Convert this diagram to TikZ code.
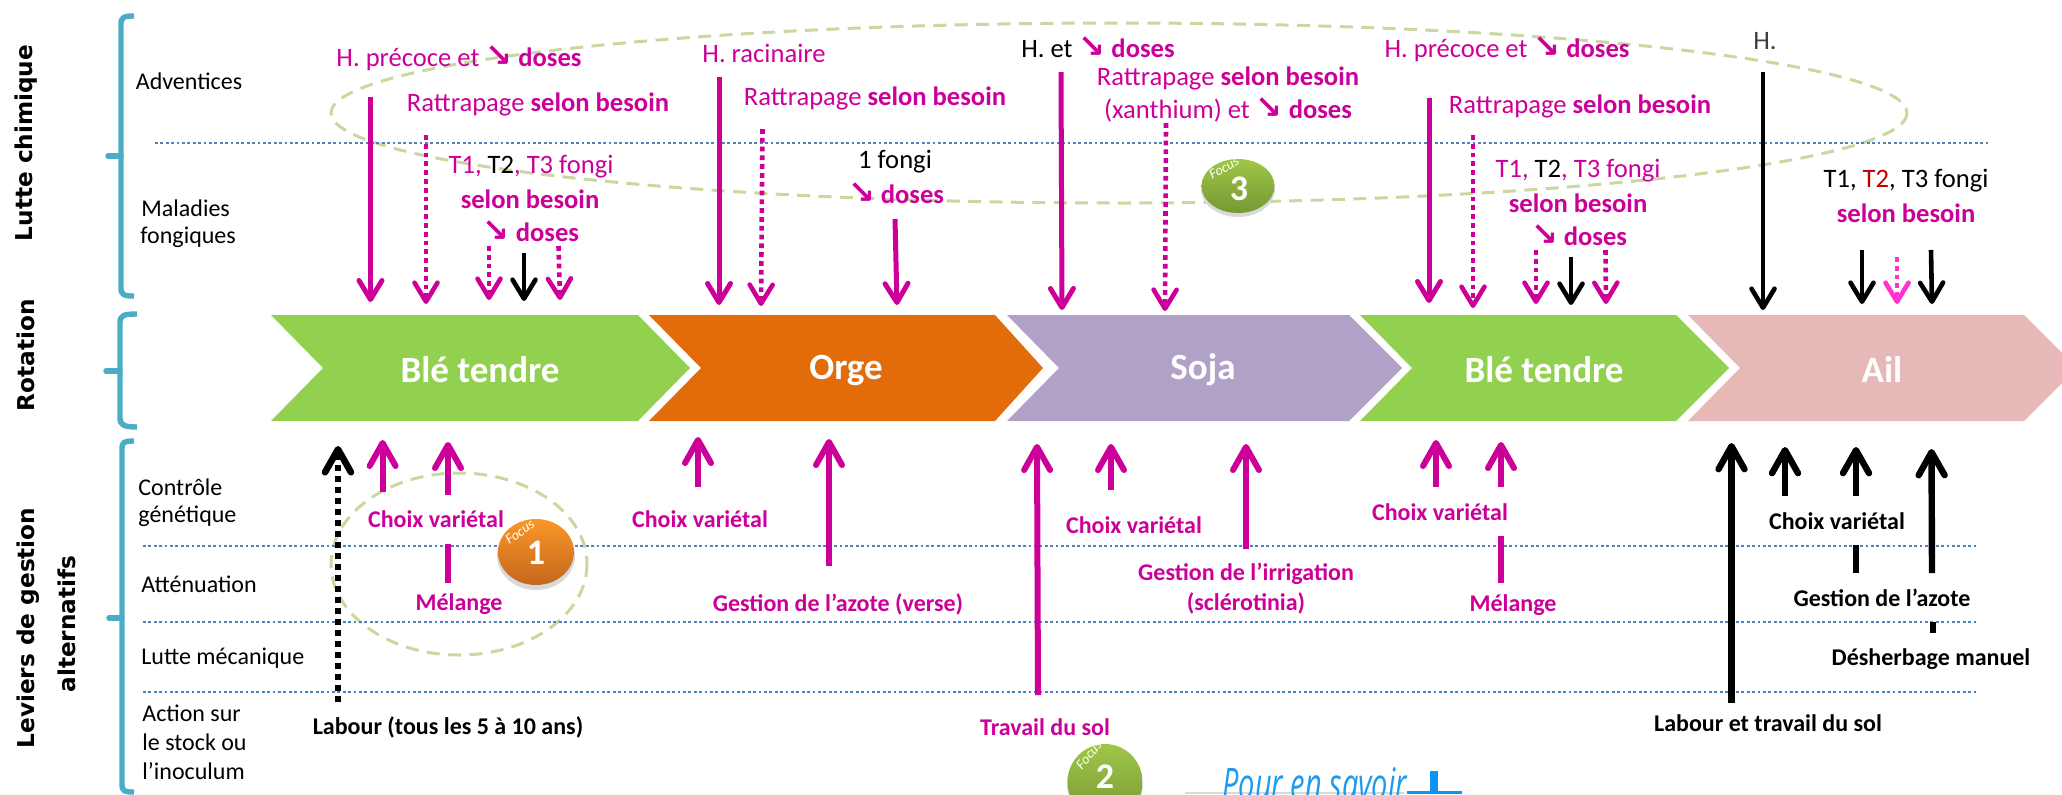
\documentclass[tikz,border=0pt]{standalone}
\usepackage{graphicx}
\usepackage{fontspec}
\setmainfont{Carlito}
\newfontfamily\headfam{DejaVu Sans}
\newfontfamily\symfam{DejaVu Sans}
\newfontfamily\penfam{Open Sans}
\usetikzlibrary{arrows.meta,shapes.geometric}
\definecolor{pk}{HTML}{CC0099}
\definecolor{pkl}{HTML}{FF33CC}
\definecolor{dotb}{HTML}{4F81BD}
\definecolor{brc}{HTML}{4BACC6}
\definecolor{elg}{HTML}{C8D8A0}
\definecolor{redt}{HTML}{C00000}
\newcommand\arw{{\fontsize{16}{16}\selectfont\symfam\bfseries ↘}}
\newcommand\conn[4]{\coordinate (#1s) at (#3); \coordinate (#1e) at (#4); \draw[#2] (#1s) -- (#1e);}
\tikzset{
  txt/.style={inner sep=0pt,font=\fontsize{13.3}{15}\selectfont,text=pk,align=center},
  blk/.style={txt,text=black},
  side/.style={inner sep=0pt,font=\fontsize{12}{14}\selectfont,text=black},
  head/.style={inner sep=0pt,rotate=90,text=black,font=\fontsize{11.6}{14}\selectfont\headfam\bfseries},
  bold/.style={txt,font=\fontsize{12}{14}\selectfont\bfseries},
  boldt/.style={txt,font=\fontsize{13.3}{15}\selectfont\bfseries},
  boldk/.style={bold,text=black},
  barw/.style={-{Straight Barb[length=9.5pt,width=11.5pt,round]}},
  uarw/.style={-{Straight Barb[length=11.5pt,width=13pt,round]}},
  pdn/.style={draw=pk,line width=2.5pt,barw},
  pdt/.style={draw=pk,line width=2.3pt,barw,dash pattern=on 2.4pt off 2pt},
  ldt/.style={draw=pkl,line width=2.3pt,barw,dash pattern=on 2.4pt off 2pt},
  kdn/.style={draw=black,line width=2.3pt,barw},
  pup/.style={draw=pk,line width=3pt,uarw},
  kup/.style={draw=black,line width=3.2pt,uarw},
  kdt/.style={draw=black,line width=3.3pt,uarw,dash pattern=on 3pt off 2.5pt},
  pbar/.style={draw=pk,line width=3pt},
  kbar/.style={draw=black,line width=3.2pt},
  dotl/.style={draw=dotb,line width=1.2pt,dash pattern=on 1.4pt off 1.3pt},
  brace/.style={draw=brc,line width=2.7pt,line cap=butt},
  focell/.style={draw=elg,line width=1.5pt,dash pattern=on 6.5pt off 4.2pt},
  chtxt/.style={inner sep=0pt,text=white,font=\fontsize{18.5}{20}\selectfont\bfseries},
  foc/.style={inner sep=0pt,text=white,font=\fontsize{7}{8}\selectfont\itshape},
  num/.style={inner sep=0pt,text=white,font=\fontsize{18}{20}\selectfont\bfseries},
}
\begin{document}
\begin{tikzpicture}[x=0.5pt,y=-0.5pt]
\useasboundingbox (0,0) rectangle (2062,794);
\clip (0,0) rectangle (2062,794);
% chevrons
\fill[fill={rgb,255:red,146;green,208;blue,80}] (271,315)--(638,315)--(690,368)--(638,421)--(271,421)--(323,368)--cycle;
\fill[fill={rgb,255:red,227;green,108;blue,10}] (649,315)--(995,315)--(1043,368)--(995,421)--(649,421)--(701,368)--cycle;
\fill[fill={rgb,255:red,178;green,161;blue,199}] (1007,315)--(1349,315)--(1402,368)--(1349,421)--(1007,421)--(1059,368)--cycle;
\fill[fill={rgb,255:red,146;green,208;blue,80}] (1360,315)--(1676,315)--(1729,368)--(1676,421)--(1360,421)--(1412,368)--cycle;
\fill[fill={rgb,255:red,230;green,184;blue,183}] (1688,315)--(2024,315)--(2077,368)--(2024,421)--(1688,421)--(1740,368)--cycle;
\node[chtxt] (c1) at (480,370) {Blé tendre};
\node[chtxt] (c2) at (846,370) {Orge};
\node[chtxt] (c3) at (1203,370) {Soja};
\node[chtxt] (c4) at (1544,370) {Blé tendre};
\node[chtxt] (c5) at (1882,370) {Ail};
% focus ellipses
\draw[focell] (1119,113) ellipse [x radius=788,y radius=90];
\draw[focell] (459,564) ellipse [x radius=128,y radius=91];
% dotted
\coordinate (d0a) at (155,143); \coordinate (d0b) at (1988,143); \draw[dotl] (d0a) -- (d0b);
\coordinate (d1a) at (143,546); \coordinate (d1b) at (1977,546); \draw[dotl] (d1a) -- (d1b);
\coordinate (d2a) at (143,622); \coordinate (d2b) at (1977,622); \draw[dotl] (d2a) -- (d2b);
\coordinate (d3a) at (143,692); \coordinate (d3b) at (1977,692); \draw[dotl] (d3a) -- (d3b);
% braces
\draw[brace] (134,16) .. controls (124,16) and (121,17) .. (121,24) -- (121,288) .. controls (121,295) and (124,296) .. (134,296);
\draw[brace,line cap=round] (108,156) -- (121,156);
\draw[brace] (137,314) .. controls (124,314) and (120,315) .. (120,323) -- (120,418) .. controls (120,425) and (124,427) .. (137,427);
\draw[brace,line cap=round] (106,371) -- (120,371);
\draw[brace] (134,441) .. controls (124,441) and (122,442) .. (122,449) -- (122,784) .. controls (122,791) and (124,792) .. (134,792);
\draw[brace,line cap=round] (109,618) -- (122,618);
% down arrows
\conn{a1}{pdn}{370.5,97}{370.5,302}
\conn{a2}{pdt}{426,135}{426,304}
\conn{a3}{pdt}{489,246}{489,300}
\conn{a4}{kdn}{524,253}{524,301}
\conn{a5}{pdt}{558.5,246}{560,300}
\conn{b1}{pdn}{719,77}{719,305}
\conn{b2}{pdt}{762.5,129}{761,306}
\conn{b3}{pdn}{895,219}{897,305}
\conn{b4}{pdn}{1061,72}{1062,310}
\conn{b5}{pdt}{1166,123}{1165,311}
\conn{c1a}{pdn}{1429,98}{1429,303}
\conn{c2a}{pdt}{1473,135}{1473,308}
\conn{c3a}{pdt}{1536,250}{1536,304}
\conn{c4a}{kdn}{1571,257}{1571,305}
\conn{c5a}{pdt}{1605.5,250}{1606,304}
\conn{c6a}{kdn}{1763,72}{1763,310}
\conn{c7a}{kdn}{1862,250}{1862,304}
\conn{c8a}{ldt}{1897,257}{1897,304}
\conn{c9a}{kdn}{1931,250}{1932,304}
% up arrows
\conn{u1}{kdt}{338,702}{338,446}
\conn{u2}{pup}{382.6,492}{382.6,440}
\conn{u3}{pup}{448,495}{448,442}
\conn{u3b}{pbar}{448,544}{448,583}
\conn{u4}{pup}{698,487}{698,437}
\conn{u5}{pup}{829,566}{829,439}
\conn{u6}{pup}{1038,695}{1037,444}
\conn{u7}{pup}{1111,490}{1111,444}
\conn{u8}{pup}{1246,549}{1246,444}
\conn{u9}{pup}{1436,487}{1436,440}
\conn{u10}{pup}{1501,487}{1501,442}
\conn{u10b}{pbar}{1501,536}{1501,583}
\conn{e1}{kup}{1731.5,703}{1731.5,443}
\conn{e2}{kup}{1785,496}{1785,447}
\conn{e3}{kup}{1856,496}{1856,447}
\conn{e3b}{kbar}{1856,545}{1856,573}
\conn{e4}{kup}{1932,573}{1931.5,449}
\conn{e4b}{kbar}{1933,622}{1933,633}
% side headings
\node[head] (h1) at (26,143) {Lutte chimique};
\node[head] (h2) at (26,355) {Rotation};
\node[head] (h3) at (28,628) {Leviers de gestion};
\node[head] (h4) at (67,624) {alternatifs};
% side labels
\node[side] (l1) at (189,81) {Adventices};
\node[side,anchor=west] (l2) at (141,208) {Maladies};
\node[side,anchor=west] (l3) at (140,237) {fongiques};
\node[side,anchor=west] (l4) at (138,487) {Contrôle};
\node[side,anchor=west] (l5) at (138,516) {génétique};
\node[side,anchor=west] (l6) at (141,584) {Atténuation};
\node[side,anchor=west] (l7) at (141,658) {Lutte mécanique};
\node[side,anchor=west] (l8) at (142,713) {Action sur};
\node[side,anchor=west] (l9) at (142,742) {le stock ou};
\node[side,anchor=west] (l10) at (142,771) {l’inoculum};
% top texts
\node[txt] (t1) at (459,58) {H. précoce et \arw\ \textbf{doses}};
\node[txt] (t2) at (538,104) {Rattrapage \textbf{selon besoin}};
\node[txt] (t3) at (531,167) {T1, {\color{black}T2}, T3 fongi};
\node[boldt] (t4) at (530,199) {selon besoin};
\node[txt] (t5) at (531,231) {\arw\ \textbf{doses}};
\node[txt] (t6) at (764,53) {H. racinaire};
\node[txt] (t7) at (875,98) {Rattrapage \textbf{selon besoin}};
\node[blk] (t8) at (895,162) {1 fongi};
\node[txt] (t9) at (896,193) {\arw\ \textbf{doses}};
\node[txt] (t10) at (1098,47) {{\color{black}H. et} \arw\ \textbf{doses}};
\node[txt] (t11) at (1228,78) {Rattrapage \textbf{selon besoin}};
\node[txt] (t12) at (1228,110) {(xanthium) et \arw\ \textbf{doses}};
\node[txt] (t13) at (1507,49) {H. précoce et \arw\ \textbf{doses}};
\node[txt] (t14) at (1580,106) {Rattrapage \textbf{selon besoin}};
\node[txt] (t15) at (1578,171) {T1, {\color{black}T2}, T3 fongi};
\node[boldt] (t16) at (1578,203) {selon besoin};
\node[txt] (t17) at (1579,235) {\arw\ \textbf{doses}};
\node[blk,text=black!75] (t18) at (1765,41) {H.};
\node[blk] (t19) at (1906,181) {T1, {\color{redt}T2}, T3 fongi};
\node[boldt] (t20) at (1906,213) {selon besoin};
% bottom texts
\node[bold] (b1t) at (436,519) {Choix variétal};
\node[bold] (b2t) at (459,604) {Mélange};
\node[boldk] (b3t) at (448,727) {Labour (tous les 5 à 10 ans)};
\node[bold] (b4t) at (700,519) {Choix variétal};
\node[bold] (b5t) at (838,604) {Gestion de l’azote (verse)};
\node[bold] (b6t) at (1134,525) {Choix variétal};
\node[bold] (b7t) at (1246,574) {Gestion de l’irrigation};
\node[bold] (b8t) at (1246,603) {(sclérotinia)};
\node[bold] (b9t) at (1045,727) {Travail du sol};
\node[bold] (b10t) at (1440,512) {Choix variétal};
\node[bold] (b11t) at (1513,605) {Mélange};
\node[boldk] (b12t) at (1837,521) {Choix variétal};
\node[boldk] (b13t) at (1882,598) {Gestion de l’azote};
\node[boldk] (b14t) at (1931,659) {Désherbage manuel};
\node[boldk] (b15t) at (1768,723) {Labour et travail du sol};
% focus balls
\fill[black!15] (536,556) ellipse [x radius=39,y radius=34];
\shade[top color={rgb,255:red,250;green,150;blue,40},bottom color={rgb,255:red,196;green,104;blue,30}] (536,552) ellipse [x radius=38,y radius=33];
\node[foc,rotate=35] (f1) at (520,532) {Focus};
\node[num] (n1) at (536,553) {1};
\fill[black!15] (1238,189) ellipse [x radius=37,y radius=28];
\shade[top color={rgb,255:red,160;green,198;blue,72},bottom color={rgb,255:red,118;green,152;blue,52}] (1238,186) ellipse [x radius=36.5,y radius=27];
\node[foc,rotate=30] (f3) at (1224,168) {Focus};
\node[num] (n3) at (1239,189) {3};
\fill[black!15] (1105,784) ellipse [x radius=38,y radius=38];
\shade[top color={rgb,255:red,160;green,198;blue,72},bottom color={rgb,255:red,118;green,152;blue,52}] (1105,782) ellipse [x radius=37.5,y radius=38];
\node[foc,rotate=50] (f2) at (1089,755) {Focus};
\node[num] (n2) at (1105,777) {2};
% pour en savoir +
\draw[black!15,line width=0.7pt] (1185,793) -- (1404,793);
\node[inner sep=0pt,anchor=base west,text={rgb,255:red,30;green,155;blue,235},font=\fontsize{14.5}{18}\selectfont\penfam\itshape] (p1) at (1222,799) {\scalebox{1}[1.5]{Pour en savoir}};
\fill[fill={rgb,255:red,10;green,150;blue,240}] (1430,771) rectangle (1438,794);
\fill[fill={rgb,255:red,10;green,150;blue,240}] (1407,791) rectangle (1462,794);
\end{tikzpicture}
\end{document}
